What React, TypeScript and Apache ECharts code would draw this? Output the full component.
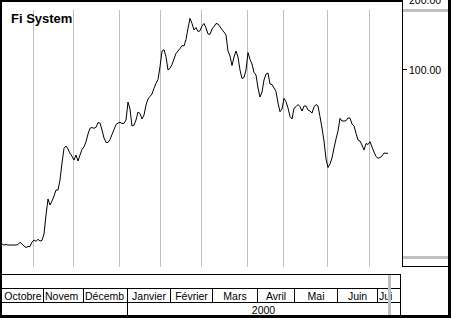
import React, { useEffect, useRef } from "react";
import * as echarts from "echarts";

const TITLE = "Fi System";

// Daily closing prices, one per trading day (mid-Sept 1999 to early July 2000)
const PRICES = [
  17.68, 17.5, 17.59, 17.5, 17.5, 17.5, 17.5, 17.5, 17.59, 17.98,
  17.68, 17.33, 17.08, 17.25, 17.25, 18.03, 18.39, 18.16, 18.52, 18.21,
  18.34, 19.52, 23.56, 27.6, 26.01, 27.06, 28.43, 30.17, 30.17, 33.32,
  39.42, 45.6, 46.65, 45.29, 43.4, 42.13, 40.61, 42.67, 40.21, 42.67,
  45.06, 46.33, 48.68, 52.54, 55.59, 56.03, 55.59, 56.14, 58.87, 58.58,
  54.66, 50.5, 48.3, 48.3, 49.75, 52.28, 54.93, 57.72, 58.58, 58.99,
  58.29, 58.41, 60.35, 72.13, 67.29, 56.87, 57.43, 60.35, 65.32, 64.36,
  60.95, 63.41, 70.01, 74.3, 76.16, 78.07, 82.6, 86.8, 90.13, 102.3,
  119.51, 121.06, 112.95, 99.01, 100.7, 104.56, 110.41, 116.59, 119.51, 122.51,
  126.2, 125.58, 133.92, 149.34, 165.21, 156.92, 147.14, 150.82, 144.97, 146.12,
  153.08, 156.92, 150.08, 141.42, 141.0, 148.6, 152.33, 156.92, 156.14, 152.02,
  147.57, 144.25, 140.03, 119.51, 113.74, 103.53, 112.62, 119.51, 112.62, 99.01,
  91.02, 91.93, 99.01, 117.75, 109.86, 105.08, 96.59, 94.24, 82.85, 75.79,
  79.63, 89.68, 95.17, 96.12, 86.2, 85.77, 82.85, 80.03, 71.41, 65.52,
  67.29, 74.82, 72.34, 67.96, 62.48, 60.95, 67.76, 68.84, 70.36, 68.84,
  65.98, 69.32, 69.32, 66.63, 65.98, 64.68, 68.64, 70.36, 69.32, 62.36,
  55.75, 49.02, 41.02, 37.71, 39.03, 41.43, 45.74, 50.0, 54.13, 61.37,
  59.76, 59.76, 59.93, 61.56, 61.56, 58.01, 56.87, 52.9, 49.51, 49.02,
  47.12, 44.84, 47.82, 47.35, 48.68, 46.19, 43.96, 42.04, 41.3, 41.63,
  42.25, 43.53, 43.4, 43.4,
];

// Month boundaries in the price series (trading-day index)
const MONTH_STARTS = [15.5, 35.5, 58.5, 79, 99.5, 122.5, 140.5, 162.5, 183.5];

// Time-axis table
const MONTH_NAMES = [
  "Octobre", "Novembre", "Décembre", "Janvier", "Février",
  "Mars", "Avril", "Mai", "Juin", "Juillet",
];
const MONTH_CELL_EDGES = [0, 20.5, 40.5, 62.5, 84, 105, 127.5, 146, 167.5, 187.5, 199];
const YEAR_LABELS = ["", "2000"];
const YEAR_CELL_EDGES = [0, 62.5, 199];

// Price axis
const Y_TICKS = [100, 200];
const Y_MIN = 14.08;
const Y_MAX = 179.37;
const X_MAX = 200;

const FONT = "'Liberation Sans', Arial, sans-serif";
const LABEL_SIZE = 10.5;

function measure(t: string, size: number): number {
  const c = document.createElement("canvas").getContext("2d");
  if (!c) return t.length * size * 0.55;
  c.font = `${size}px ${FONT}`;
  return c.measureText(t).width;
}

export default function App() {
  const ref = useRef<HTMLDivElement>(null);

  useEffect(() => {
    const el = ref.current!;
    const chart = echarts.init(el, null, { renderer: "svg" });
    chart.setOption({
      animation: false,
      backgroundColor: "#ffffff",
      grid: { left: 2, top: 10, width: 400, height: 257, show: false },
      xAxis: { type: "value", min: 0, max: X_MAX, show: false },
      yAxis: { type: "log", logBase: 10, min: Y_MIN, max: Y_MAX, show: false },
      series: [
        {
          type: "line",
          data: PRICES.map((v, i) => [i, v]),
          symbol: "none",
          z: 5,
          lineStyle: { color: "#000000", width: 1 },
        },
      ],
    });

    const px = (i: number) => Math.round(chart.convertToPixel({ xAxisIndex: 0 }, i) as number);
    const py = (v: number) => Math.round(chart.convertToPixel({ yAxisIndex: 0 }, v) as number);

    const gridTop = py(Y_MAX);
    const gridBottom = py(Y_MIN);
    const axisX = px(X_MAX);
    const W = 451;
    const H = 318;
    const boxTop = 274;
    const rowMonth = 288;
    const rowYear = 302;
    const boxBottom = 315;
    const boxRight = px(MONTH_CELL_EDGES[MONTH_CELL_EDGES.length - 1]);
    const markerX = px(PRICES.length - 1);

    const rect = (x: number, y: number, w: number, h: number, fill: string, z = 10) => ({
      type: "rect",
      silent: true,
      z,
      shape: { x, y, width: w, height: h },
      style: { fill },
    });
    const text = (t: string, x: number, y: number, extra: any = {}, z = 10) => ({
      type: "text",
      silent: true,
      z,
      x,
      y,
      style: {
        text: t,
        fill: "#000000",
        fontFamily: FONT,
        fontSize: LABEL_SIZE,
        ...extra,
      },
    });

    const elements: any[] = [];

    // Month grid lines
    MONTH_STARTS.forEach((m) => {
      elements.push(rect(px(m), gridTop, 1, gridBottom - gridTop, "#c0c0c0", 0));
    });

    // Right price-axis panel
    elements.push(rect(axisX, 0, 1, 267, "#000000"));
    elements.push(rect(axisX, 266, W - 3 - axisX, 1, "#000000"));
    elements.push(rect(axisX + 1, 9, W - 4 - axisX, 3, "#c0c0c0"));
    elements.push(rect(axisX + 1, 256, W - 4 - axisX, 3, "#c0c0c0"));
    Y_TICKS.forEach((v) => {
      const y = py(v);
      elements.push(rect(axisX + 1, y, 4, 1, "#000000"));
      elements.push(text(v.toFixed(2), axisX + 7, y + 0.5, { align: "left", verticalAlign: "middle" }));
    });

    // Title
    elements.push(
      text(TITLE, 11, 18, { fontSize: 13, fontWeight: "bold", align: "left", verticalAlign: "middle" })
    );

    // Time-axis table
    elements.push(rect(2, boxTop, boxRight - 2, 1, "#000000"));
    elements.push(rect(2, rowMonth, boxRight - 2, 1, "#000000"));
    elements.push(rect(2, rowYear, boxRight - 2, 1, "#000000"));
    elements.push(rect(boxRight, boxTop, 1, boxBottom - boxTop, "#000000"));
    MONTH_NAMES.forEach((name, k) => {
      const x0 = px(MONTH_CELL_EDGES[k]);
      const x1 = px(MONTH_CELL_EDGES[k + 1]);
      if (k > 0) elements.push(rect(x0, rowMonth, 1, rowYear - rowMonth, "#000000"));
      const rightLimit = markerX > x0 && markerX < x1 ? markerX + 5 : x1 - 1;
      const avail = rightLimit - x0 - 1;
      const w = measure(name, LABEL_SIZE);
      const yMid = (rowMonth + rowYear) / 2 + 0.5;
      if (w <= x1 - x0 - 2) {
        elements.push(text(name, (x0 + x1) / 2 + 0.5, yMid, { align: "center", verticalAlign: "middle" }));
      } else {
        elements.push(
          text(name, x0 + 2, yMid, {
            align: "left",
            verticalAlign: "middle",
            width: avail,
            overflow: "truncate",
            ellipsis: "",
          })
        );
      }
    });
    YEAR_LABELS.forEach((label, k) => {
      const x0 = px(YEAR_CELL_EDGES[k]);
      const x1 = px(YEAR_CELL_EDGES[k + 1]);
      if (k > 0) elements.push(rect(x0, rowMonth, 1, boxBottom - rowMonth, "#000000"));
      if (label)
        elements.push(
          text(label, (x0 + x1) / 2, (rowYear + boxBottom) / 2 + 1, { align: "center", verticalAlign: "middle" })
        );
    });
    // Current-date marker
    elements.push(rect(markerX, boxTop + 1, 3, boxBottom - boxTop - 1, "#c0c0c0", 11));

    // Frame
    elements.push(rect(0, 0, 2, H, "#000000", 20));
    elements.push(rect(0, 0, axisX, 2, "#000000", 20));
    elements.push(rect(W - 3, 0, 3, H, "#000000", 20));
    elements.push(rect(0, boxBottom, W, H - boxBottom, "#000000", 20));

    chart.setOption({ graphic: { elements } });

    return () => chart.dispose();
  }, []);

  return (
    <div
      ref={ref}
      style={{ position: "fixed", left: 0, top: 0, width: 451, height: 318, background: "#ffffff" }}
    />
  );
}
